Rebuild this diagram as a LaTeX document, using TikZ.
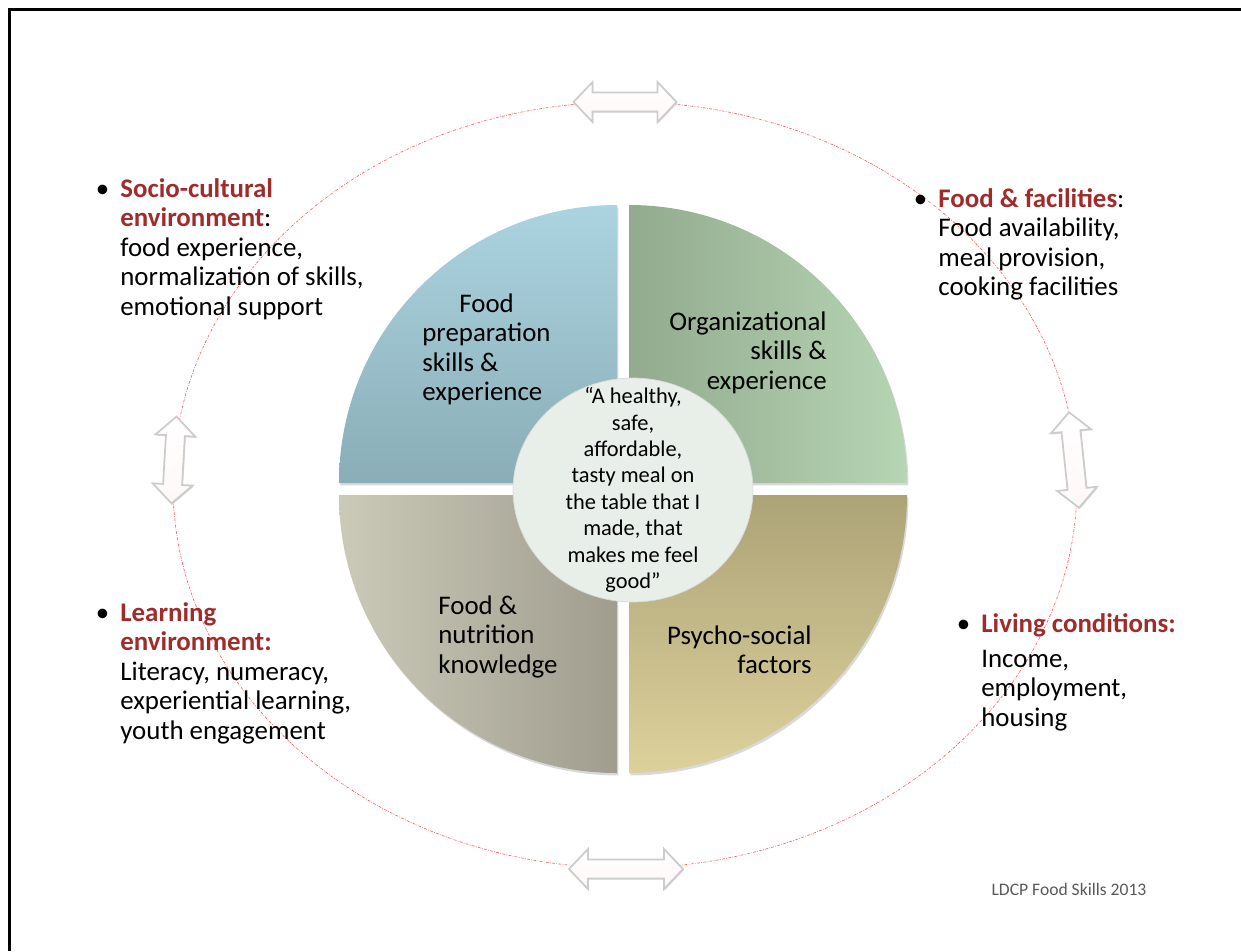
\documentclass[tikz,border=0pt]{standalone}
\usepackage{fontspec}
\setmainfont{Carlito}
\usetikzlibrary{shapes.geometric,shadows}

\definecolor{ldred}{RGB}{160,43,43}
\definecolor{blueTop}{RGB}{171,212,224}
\definecolor{blueBot}{RGB}{138,173,183}
\definecolor{greenL}{RGB}{146,170,142}
\definecolor{greenR}{RGB}{182,213,179}
\definecolor{greyL}{RGB}{203,201,184}
\definecolor{greyR}{RGB}{160,157,142}
\definecolor{khakiTop}{RGB}{172,163,119}
\definecolor{khakiBot}{RGB}{221,209,155}
\definecolor{mealFill}{RGB}{232,239,233}

\newcommand{\redbold}[1]{\textcolor{ldred}{\textbf{#1}}}

\tikzset{
    body/.style={font=\fontsize{15.3}{16.8}\selectfont,inner sep=0pt},
    side/.style={body,align=left,anchor=north west},
    slice/.style={drop shadow={shadow xshift=0.8pt,shadow yshift=-1.4pt,opacity=0.3}},
    pics/twoway/.style={code={
        \pgfmathsetmacro{\arrhalf}{#1/2}
        \path[draw=black!20,line width=1pt,top color=white,bottom color=red!3,
              drop shadow={shadow xshift=0.5pt,shadow yshift=-0.7pt,opacity=0.3}]
            (-\arrhalf,0) -- (-\arrhalf+19,-20) -- (-\arrhalf+19,-9.5)
            -- (\arrhalf-19,-9.5) -- (\arrhalf-19,-20) -- (\arrhalf,0)
            -- (\arrhalf-19,20) -- (\arrhalf-19,9.5) -- (-\arrhalf+19,9.5)
            -- (-\arrhalf+19,20) -- cycle;
    }}
}

\begin{document}
\begin{tikzpicture}[x=0.02cm,y=-0.02cm]
    \useasboundingbox (0,0) rectangle (1241,951);

    % slide frame
    \draw[line width=0.07cm] (9.5,951) -- (9.5,9.5) -- (1241,9.5);

    % outer ring
    \draw[red!65,dash pattern=on 1.6pt off 0.8pt on 0.4pt off 0.8pt,line width=0.35pt]
        (625,485) ellipse[x radius=452,y radius=383];

    % four quarters
    \path[slice,top color=blueTop,bottom color=blueBot]
        (617,483) -- (339,483) arc[start angle=180,end angle=270,radius=278] -- cycle;
    \path[slice,left color=greenL,right color=greenR]
        (629,483) -- (629,205) arc[start angle=270,end angle=360,radius=278] -- cycle;
    \path[slice,left color=greyL,right color=greyR]
        (617,495) -- (339,495) arc[start angle=180,end angle=90,radius=278] -- cycle;
    \path[slice,top color=khakiTop,bottom color=khakiBot]
        (629,495) -- (907,495) arc[start angle=0,end angle=90,radius=278] -- cycle;

    % quarter labels
    \node[side] (prep) at (422,293) {\hspace*{0.74cm}Food\\preparation\\skills \&\\experience};
    \node[body,align=right,anchor=north east] (org) at (827,311) {Organizational\\skills \&\\experience};
    \node[side] (know) at (438,595) {Food \&\\nutrition\\knowledge};
    \node[body,align=right,anchor=north east] (psy) at (812,625) {Psycho-social\\factors};

    % centre
    \node[ellipse,fill=mealFill,draw=white!85!black,line width=0.4pt,
          minimum width=4.8cm,minimum height=4.48cm,inner sep=0pt] (meal) at (633,490) {};
    \node[align=center,inner sep=0pt,font=\fontsize{12.75}{15}\selectfont] (mealtext) at (meal.center)
        {“A healthy,\\safe,\\affordable,\\tasty meal on\\the table that I\\made, that\\makes me feel\\good”};

    % arrows on the ring
    \pic at (625,102) {twoway=103};
    \pic at (626,869) {twoway=114};
    \pic[rotate=86.7] at (174,460) {twoway=87};
    \pic[rotate=96] at (1074,460) {twoway=96};

    % environments
    \node[side] (socio) at (120,178)
        {\llap{•\hspace{0.22cm}}\redbold{Socio-cultural}\\\redbold{environment}:\\food experience,\\normalization of skills,\\emotional support};
    \node[side] (facil) at (938,188)
        {\llap{•\hspace{0.22cm}}\redbold{Food \& facilities}:\\Food availability,\\meal provision,\\cooking facilities};
    \node[side] (learn) at (120,602)
        {\llap{•\hspace{0.22cm}}\redbold{Learning}\\\redbold{environment:}\\Literacy, numeracy,\\experiential learning,\\youth engagement};
    \node[side] (living) at (981,613)
        {\llap{•\hspace{0.22cm}}\redbold{Living conditions:}\\[3pt]Income,\\employment,\\housing};

    % footer
    \node[inner sep=0pt,font=\fontsize{10}{12}\selectfont,text=black!65] (credit) at (1069,889) {LDCP Food Skills 2013};
\end{tikzpicture}
\end{document}
